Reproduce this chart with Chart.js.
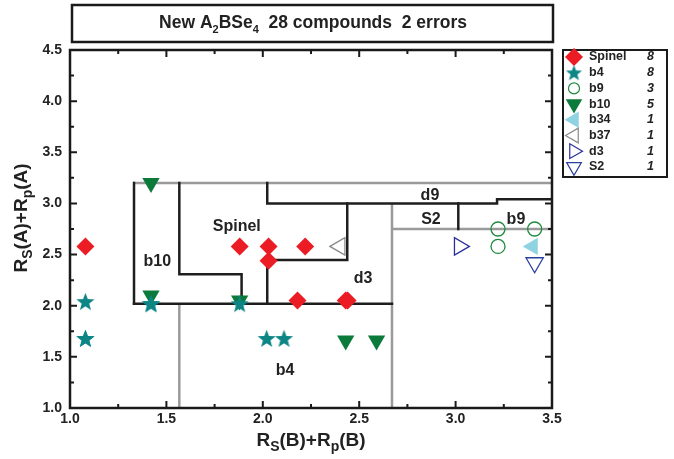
<!DOCTYPE html>
<html>
<head>
<meta charset="utf-8">
<script src="https://cdn.jsdelivr.net/npm/chart.js@4.4.0/dist/chart.umd.min.js"></script>
<style>
  body { margin: 0; background: #fff; }
  canvas { display: block; }
</style>
</head>
<body>
<canvas id="chart" width="674" height="459"></canvas>
<script>
// data
const xTickValues = [1.0, 1.5, 2.0, 2.5, 3.0, 3.5];
const yTickValues = [1.0, 1.5, 2.0, 2.5, 3.0, 3.5, 4.0, 4.5];

const spinelPts = [[1.08, 2.58], [1.88, 2.58], [2.03, 2.58], [2.22, 2.58], [2.03, 2.44], [2.18, 2.05], [2.43, 2.05], [2.44, 2.05]];
const b4Pts = [[1.08, 2.04], [1.08, 1.68], [1.08, 1.68], [1.42, 2.02], [1.42, 2.02], [1.88, 2.02], [2.02, 1.68], [2.11, 1.68]];
const b9Pts = [[3.22, 2.75], [3.22, 2.58], [3.41, 2.75]];
const b10Pts = [[1.42, 3.2], [1.42, 2.1], [1.88, 2.05], [2.43, 1.66], [2.59, 1.66]];
const b34Pts = [[3.40, 2.58]];
const b37Pts = [[2.40, 2.58]];
const d3Pts = [[3.02, 2.58]];
const s2Pts = [[3.41, 2.42]];

const legendNames = ['Spinel', 'b4', 'b9', 'b10', 'b34', 'b37', 'd3', 'S2'];
const legendCounts = ['8', '8', '3', '5', '1', '1', '1', '1'];

// region boundaries
const greyLines = [
  [[1.33, 3.2], [3.5, 3.2]],
  [[1.567, 1.0], [1.567, 2.02]],
  [[2.67, 1.0], [2.67, 3.0]],
  [[2.67, 2.75], [3.5, 2.75]]
];
const blackLines = [
  [[1.332, 2.02], [1.332, 3.2]],
  [[1.567, 3.2], [1.567, 2.307], [1.89, 2.307], [1.89, 2.02]],
  [[1.332, 2.02], [2.67, 2.02]],
  [[2.023, 3.2], [2.023, 3.0], [3.215, 3.0], [3.215, 3.04], [3.5, 3.04]],
  [[2.023, 2.02], [2.023, 2.447], [2.438, 2.447], [2.438, 3.0]],
  [[3.014, 2.75], [3.014, 3.0]]
];

const regionNames = ['Spinel', 'b10', 'b4', 'd3', 'd9', 'S2', 'b9'];
const regionX = [1.865, 1.453, 2.115, 2.52, 2.867, 2.872, 3.313];
const regionY = [2.772, 2.43, 1.37, 2.268, 3.072, 2.845, 2.845];

const FONT = '"Liberation Sans", Arial, Helvetica, sans-serif';
const INK = '#222';

function toXY(arr) { return arr.map(p => ({ x: p[0], y: p[1] })); }

function makeStar(r, color) {
  const c = document.createElement('canvas');
  const s = Math.ceil(r * 2 + 2);
  c.width = s; c.height = s;
  const g = c.getContext('2d');
  g.fillStyle = color;
  g.beginPath();
  for (let i = 0; i < 10; i++) {
    const rr = i % 2 === 0 ? r : r * 0.42;
    const a = -Math.PI / 2 + i * Math.PI / 5;
    const px = s / 2 + Math.cos(a) * rr, py = s / 2 + Math.sin(a) * rr + r * 0.08;
    if (i === 0) g.moveTo(px, py); else g.lineTo(px, py);
  }
  g.closePath();
  g.fill();
  return c;
}

const TEAL = '#0d8585';
const starBig = makeStar(9.5, TEAL);
const starSmall = makeStar(8.5, TEAL);

// marker styles, one per series (same order as legend)
const styles = [
  { pointStyle: 'rectRot', radius: 9, rotation: 0, fill: '#ec1c24', stroke: '#ec1c24', open: false, lr: 9 },
  { pointStyle: starBig, radius: 9, rotation: 0, fill: TEAL, stroke: TEAL, open: false, small: starSmall },
  { pointStyle: 'circle', radius: 7, rotation: 0, fill: 'rgba(0,0,0,0)', stroke: '#1f8a3f', open: true, lr: 5.5 },
  { pointStyle: 'triangle', radius: 10, rotation: 180, fill: '#0b7a3b', stroke: '#0b7a3b', open: false, lr: 9.5 },
  { pointStyle: 'triangle', radius: 10, rotation: 270, fill: '#8fd3e2', stroke: '#8fd3e2', open: false, lr: 9.5 },
  { pointStyle: 'triangle', radius: 10, rotation: 270, fill: 'rgba(0,0,0,0)', stroke: '#8a8a8a', open: true, lr: 8.5 },
  { pointStyle: 'triangle', radius: 10, rotation: 90, fill: 'rgba(0,0,0,0)', stroke: '#2b2f9a', open: true, lr: 8.5 },
  { pointStyle: 'triangle', radius: 10, rotation: 180, fill: 'rgba(0,0,0,0)', stroke: '#2b3fa0', open: true, lr: 8.5 }
];
const seriesData = [spinelPts, b4Pts, b9Pts, b10Pts, b34Pts, b37Pts, d3Pts, s2Pts];

const datasets = [];
seriesData.forEach((pts, i) => {
  const st = styles[i];
  datasets.push({
    type: 'scatter',
    label: legendNames[i],
    data: toXY(pts),
    pointStyle: st.pointStyle,
    pointRadius: st.radius,
    pointRotation: st.rotation,
    backgroundColor: st.fill,
    borderColor: st.stroke,
    pointBorderWidth: st.open ? 1.3 : 0,
    order: 1
  });
});
greyLines.forEach(l => datasets.push({
  type: 'line', data: toXY(l), borderColor: '#9a9a9a', borderWidth: 2.5,
  pointRadius: 0, fill: false, tension: 0, order: 3
}));
blackLines.forEach(l => datasets.push({
  type: 'line', data: toXY(l), borderColor: '#1e1e1e', borderWidth: 2.5,
  pointRadius: 0, fill: false, tension: 0, order: 2, borderCapStyle: 'square'
}));

// text with subscripts: parts = [[text, isSub], ...]
function drawRich(ctx, parts, cx, cy, size, subSize, subDrop) {
  let w = 0;
  parts.forEach(p => {
    ctx.font = 'bold ' + (p[1] ? subSize : size) + 'px ' + FONT;
    w += ctx.measureText(p[0]).width;
  });
  let x = cx - w / 2;
  ctx.textAlign = 'left';
  ctx.textBaseline = 'alphabetic';
  parts.forEach(p => {
    ctx.font = 'bold ' + (p[1] ? subSize : size) + 'px ' + FONT;
    ctx.fillText(p[0], x, cy + (p[1] ? subDrop : 0));
    x += ctx.measureText(p[0]).width;
  });
}

const decorPlugin = {
  id: 'decor',
  afterDatasetsDraw(chart) {
    const ctx = chart.ctx;
    const a = chart.chartArea;
    const xs = chart.scales.x, ys = chart.scales.y;
    ctx.save();
    // region labels
    ctx.fillStyle = INK;
    ctx.font = 'bold 16px ' + FONT;
    ctx.textAlign = 'center';
    ctx.textBaseline = 'middle';
    regionNames.forEach((t, i) => {
      ctx.fillText(t, xs.getPixelForValue(regionX[i]), ys.getPixelForValue(regionY[i]));
    });
    // frame
    ctx.strokeStyle = '#1a1a1a';
    ctx.lineWidth = 2.5;
    ctx.strokeRect(a.left, a.top, a.right - a.left, a.bottom - a.top);
    // inward ticks on all four sides
    ctx.lineWidth = 2;
    for (let v = 1.0; v <= 3.5001; v += 0.25) {
      const px = xs.getPixelForValue(v);
      const len = Math.abs(v * 2 - Math.round(v * 2)) < 1e-6 ? 7 : 4;
      ctx.beginPath();
      ctx.moveTo(px, a.bottom); ctx.lineTo(px, a.bottom - len);
      ctx.moveTo(px, a.top); ctx.lineTo(px, a.top + len);
      ctx.stroke();
    }
    for (let v = 1.0; v <= 4.5001; v += 0.25) {
      const py = ys.getPixelForValue(v);
      const len = Math.abs(v * 2 - Math.round(v * 2)) < 1e-6 ? 7 : 4;
      ctx.beginPath();
      ctx.moveTo(a.left, py); ctx.lineTo(a.left + len, py);
      ctx.moveTo(a.right, py); ctx.lineTo(a.right - len, py);
      ctx.stroke();
    }
    ctx.restore();
  },
  afterDraw(chart) {
    const ctx = chart.ctx;
    const a = chart.chartArea;
    ctx.save();
    ctx.fillStyle = INK;
    // axis titles
    drawRich(ctx, [['R', false], ['S', true], ['(B)+R', false], ['p', true], ['(B)', false]],
      (a.left + a.right) / 2, 446, 19, 14, 5);
    ctx.save();
    ctx.translate(27, (a.top + a.bottom) / 2 - 11);
    ctx.rotate(-Math.PI / 2);
    drawRich(ctx, [['R', false], ['S', true], ['(A)+R', false], ['p', true], ['(A)', false]],
      0, 0, 19, 14, 5);
    ctx.restore();

    // title box
    ctx.strokeStyle = '#1a1a1a';
    ctx.lineWidth = 2.5;
    ctx.strokeRect(72, 5, 481, 37);
    drawRich(ctx, [['New A', false], ['2', true], ['BSe', false], ['4', true], ['  28 compounds  2 errors', false]],
      313, 28, 17.5, 11, 5);

    // legend box
    ctx.lineWidth = 2;
    ctx.strokeRect(563, 50, 104, 127);
    legendNames.forEach((name, i) => {
      const st = styles[i];
      const y = 57 + i * 15.7;
      ctx.save();
      ctx.fillStyle = st.fill;
      ctx.strokeStyle = st.stroke;
      ctx.lineWidth = st.open ? 1.2 : 0;
      Chart.helpers.drawPoint(ctx, {
        pointStyle: st.small || st.pointStyle,
        radius: st.lr || 7,
        rotation: st.rotation,
        borderWidth: st.open ? 1.2 : 0
      }, 574, y);
      ctx.restore();
      ctx.fillStyle = INK;
      ctx.textBaseline = 'middle';
      ctx.textAlign = 'left';
      ctx.font = 'bold 12.5px ' + FONT;
      ctx.fillText(name, 589, y);
      ctx.textAlign = 'right';
      ctx.font = 'italic bold 12.5px ' + FONT;
      ctx.fillText(legendCounts[i], 654, y);
    });
    ctx.restore();
  }
};

Chart.defaults.font.family = FONT;

new Chart(document.getElementById('chart'), {
  data: { datasets: datasets },
  options: {
    responsive: false,
    animation: false,
    layout: { padding: { left: 0, top: 50, right: 122, bottom: 0 } },
    plugins: { legend: { display: false }, tooltip: { enabled: false } },
    scales: {
      x: {
        type: 'linear', min: 1.0, max: 3.5,
        afterBuildTicks: s => { s.ticks = xTickValues.map(v => ({ value: v })); },
        afterFit: s => { s.height = 51; },
        grid: { display: false, drawTicks: false },
        border: { display: false },
        ticks: {
          padding: 3, color: INK, maxRotation: 0, autoSkip: false,
          font: { size: 14, weight: 'bold' },
          callback: v => v.toFixed(1)
        }
      },
      y: {
        type: 'linear', min: 1.0, max: 4.5,
        afterBuildTicks: s => { s.ticks = yTickValues.map(v => ({ value: v })); },
        afterFit: s => { s.width = 70; },
        grid: { display: false, drawTicks: false },
        border: { display: false },
        ticks: {
          padding: 8, color: INK, autoSkip: false,
          font: { size: 14, weight: 'bold' },
          callback: v => v.toFixed(1)
        }
      }
    }
  },
  plugins: [decorPlugin]
});
</script>
</body>
</html>
